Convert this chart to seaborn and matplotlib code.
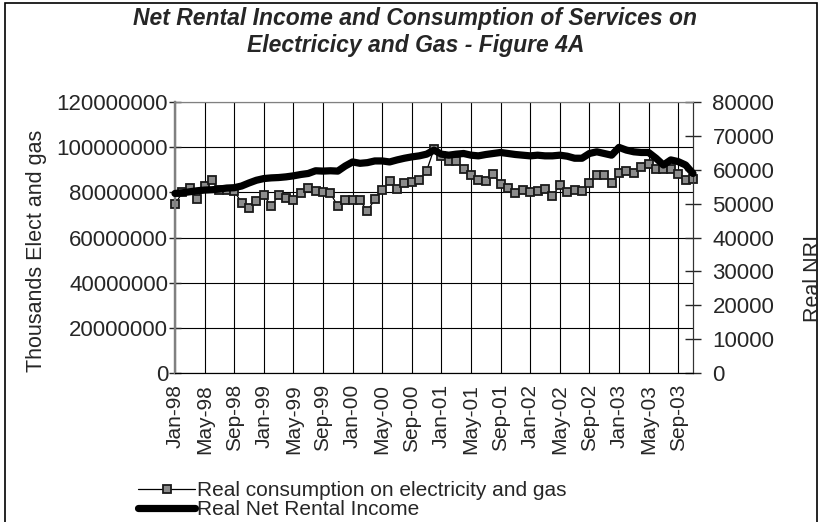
import numpy as np
import pandas as pd
import seaborn as sns
import matplotlib.pyplot as plt
from matplotlib.ticker import FuncFormatter, MultipleLocator
from matplotlib.patches import Rectangle

# Monthly data, Jan-98 .. Nov-03
consumption = [
    74.7, 80.0, 82.0, 77.0, 82.6, 85.3, 81.0, 81.0, 80.6, 75.4,
    73.2, 76.1, 78.7, 73.9, 78.7, 77.6, 76.6, 79.8, 81.8, 80.6,
    80.1, 79.6, 73.9, 76.4, 76.4, 76.4, 71.7, 76.9, 81.0, 85.0,
    81.6, 84.0, 84.7, 85.3, 89.5, 99.2, 96.0, 94.0, 94.0, 90.5,
    87.6, 85.5, 85.0, 88.0, 83.6, 82.1, 79.6, 81.0, 80.1, 80.6,
    81.4, 78.5, 83.1, 80.1, 81.0, 80.6, 84.0, 87.6, 87.6, 84.0,
    88.4, 89.5, 88.4, 91.4, 92.4, 90.5, 90.2, 90.5, 88.3, 85.3,
    85.8,
]  # millions
net_rental_income = [
    53000, 53200, 53500, 53800, 54000, 54100, 54300, 54600, 54700, 55200,
    56100, 56900, 57400, 57600, 57700, 57900, 58200, 58600, 58900, 59700,
    59600, 59700, 59600, 61100, 62300, 61900, 62100, 62600, 62600, 62300,
    62900, 63400, 63800, 64100, 64600, 65800, 64600, 64300, 64600, 64800,
    64300, 64100, 64500, 64800, 65100, 64800, 64500, 64300, 64100, 64300,
    64100, 64100, 64300, 64000, 63400, 63400, 64800, 65300, 64800, 64300,
    66600, 65800, 65300, 65100, 65100, 63400, 61400, 62900, 62400, 61400,
    58900,
]
tick_labels = ["Jan-98", "May-98", "Sep-98", "Jan-99", "May-99", "Sep-99",
               "Jan-00", "May-00", "Sep-00", "Jan-01", "May-01", "Sep-01",
               "Jan-02", "May-02", "Sep-02", "Jan-03", "May-03", "Sep-03"]

df = pd.DataFrame({
    "idx": np.arange(len(consumption)),
    "consumption": np.array(consumption) * 1e6,
    "nri": net_rental_income,
})

sns.set_style("white")
plt.rcParams["font.family"] = ["Liberation Sans", "DejaVu Sans"]

fig = plt.figure(figsize=(8.21, 5.22), dpi=100)
ax = fig.add_axes([175 / 821, 1 - 373 / 522, 518 / 821, 271 / 522])
ax2 = ax.twinx()

sns.lineplot(data=df, x="idx", y="consumption", ax=ax, color="black",
             linewidth=0.9, marker="s", markersize=5.2,
             markerfacecolor="#8c8c8c", markeredgecolor="#1a1a1a",
             markeredgewidth=1.3, label="Real consumption on electricity and gas",
             clip_on=False, zorder=3)
sns.lineplot(data=df, x="idx", y="nri", ax=ax2, color="black", linewidth=5.2,
             solid_joinstyle="round", solid_capstyle="round",
             label="Real Net Rental Income", clip_on=False, zorder=4)

# axes ranges and ticks
ax.set_xlim(0, len(df) - 1)
ax.set_ylim(0, 120e6)
ax2.set_ylim(0, 80000)
ax.yaxis.set_major_locator(MultipleLocator(20e6))
ax.yaxis.set_major_formatter(FuncFormatter(lambda v, p: f"{v:.0f}"))
ax2.yaxis.set_major_locator(MultipleLocator(10000))
ax.set_xticks(np.arange(0, 4 * len(tick_labels), 4))
ax.set_xticklabels(tick_labels, rotation=90)

ax.grid(True, color="black", linewidth=0.8)
ax.set_xlabel("")
ax.set_ylabel("")
ax2.set_ylabel("")

ax.tick_params(axis="y", direction="inout", length=8, width=1, labelsize=16, pad=1)
ax.tick_params(axis="x", direction="inout", length=10, width=1, labelsize=15, pad=3)
ax2.tick_params(axis="y", direction="inout", length=12, width=1, labelsize=16, pad=8)

for a in (ax, ax2):
    a.spines["left"].set_color("#808080")
    a.spines["left"].set_linewidth(1.6)
    a.spines["top"].set_color("#808080")
    a.spines["right"].set_color("#333333")
    a.spines["bottom"].set_color("black")

# legend at the bottom
for a in (ax, ax2):
    if a.get_legend() is not None:
        a.get_legend().remove()
h1, l1 = ax.get_legend_handles_labels()
h2, l2 = ax2.get_legend_handles_labels()
fig.legend(h1 + h2, l1 + l2, loc="lower left", bbox_to_anchor=(128 / 821, -0.014),
           frameon=False, fontsize=15, handlelength=2.7, handletextpad=0.1,
           labelspacing=0.0, borderpad=0, numpoints=1)

# titles and axis labels
fig.text(0.506, 1 - 32 / 522,
         "Net Rental Income and Consumption of Services on\nElectricicy and Gas - Figure 4A",
         ha="center", va="center", fontsize=16.5, fontweight="bold",
         fontstyle="italic", linespacing=1.25)
fig.text(37 / 821, 1 - 251 / 522, "Thousands Elect and gas", rotation=90,
         ha="center", va="center", fontsize=15.5)
fig.text(813 / 821, 1 - 278 / 522, "Real NRI", rotation=90,
         ha="center", va="center", fontsize=15.5)

# chart border
fig.patches.append(Rectangle((5 / 821, -0.02), 812 / 821, 1.014, fill=False,
                             edgecolor="black", linewidth=1.2,
                             transform=fig.transFigure, figure=fig))

fig.savefig("out.png", dpi=100)
